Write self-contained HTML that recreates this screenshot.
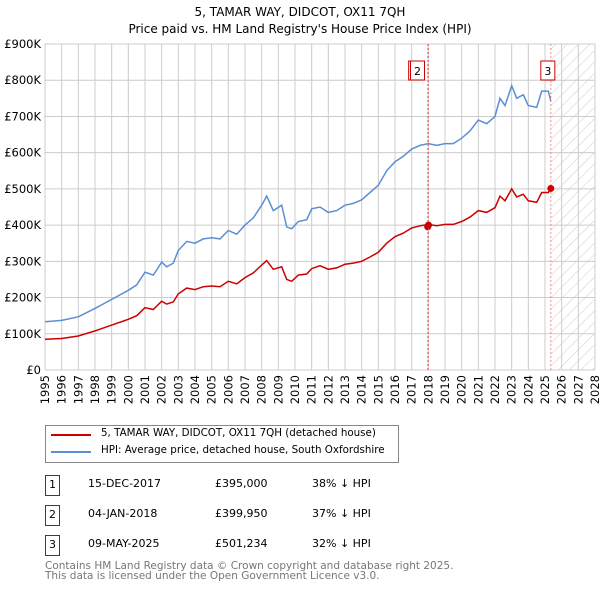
<!DOCTYPE html>
<html><head><meta charset="utf-8"><style>
body{margin:0;background:#fff;font-family:"DejaVu Sans","Liberation Sans",sans-serif;}
#wrap{position:relative;width:600px;height:590px;}
.t{position:absolute;font-size:11px;color:#000;white-space:nowrap;}
svg text{font-family:"DejaVu Sans","Liberation Sans",sans-serif;}
</style></head><body><div id="wrap">
<svg id="c" width="600" height="590" style="position:absolute;left:0;top:0">
<defs><pattern id="hatch" width="8" height="8" patternUnits="userSpaceOnUse" patternTransform="rotate(45)"><line x1="0" y1="0" x2="0" y2="8" stroke="#ccc" stroke-width="1"/></pattern></defs>
<text x="300" y="16" text-anchor="middle" font-size="12">5, TAMAR WAY, DIDCOT, OX11 7QH</text>
<text x="300" y="33" text-anchor="middle" font-size="12">Price paid vs. HM Land Registry's House Price Index (HPI)</text>
<g id="grid"></g><g id="marks"></g>
</svg>
<div style="position:absolute;left:45px;top:425px;width:352px;height:36px;border:1px solid #888;">
<div style="position:absolute;left:5px;top:8px;width:40px;border-top:2px solid #cc0000"></div>
<div class="t" style="left:55px;top:1px;font-size:10.3px">5, TAMAR WAY, DIDCOT, OX11 7QH (detached house)</div>
<div style="position:absolute;left:5px;top:25px;width:40px;border-top:2px solid #5b8fd4"></div>
<div class="t" style="left:55px;top:18px;font-size:10.3px">HPI: Average price, detached house, South Oxfordshire</div>
</div>
<div id="rows"></div>
<div class="t" style="left:45px;top:561px;color:#777;font-size:10.5px;line-height:10px">Contains HM Land Registry data © Crown copyright and database right 2025.<br>This data is licensed under the Open Government Licence v3.0.</div>
</div>
<script>
const hpiYears=[1995,1996,1997,1998,1999,2000,2000.5,2001,2001.5,2002,2002.3,2002.7,2003,2003.5,2004,2004.5,2005,2005.5,2006,2006.5,2007,2007.5,2008,2008.3,2008.7,2009.2,2009.5,2009.8,2010.2,2010.7,2011,2011.5,2012,2012.5,2013,2013.5,2014,2014.5,2015,2015.5,2016,2016.5,2017,2017.5,2018,2018.5,2019,2019.5,2020,2020.5,2021,2021.5,2022,2022.3,2022.6,2023,2023.3,2023.7,2024,2024.5,2024.8,2025.2,2025.35];
const hpiValues=[133,137,147,170,195,220,235,270,262,298,285,295,330,355,350,362,365,362,385,375,400,420,455,480,440,455,395,390,410,415,445,450,435,440,455,460,470,490,510,550,575,590,610,620,625,620,625,625,640,660,690,680,700,750,730,785,750,760,730,725,770,770,742];
const redValues=[85,87,94,108,124,140,150,172,167,190,182,188,210,226,222,230,232,230,245,238,255,268,290,302,278,285,250,245,262,265,280,288,278,282,292,295,300,312,325,350,368,378,392,398,402,398,402,402,410,422,440,435,448,480,467,500,478,485,467,463,490,490,501];
const sales=[{n:"1",d:"15-DEC-2017",x:2017.96,v:395000,p:"£395,000",h:"38% ↓ HPI"},{n:"2",d:"04-JAN-2018",x:2018.01,v:399950,p:"£399,950",h:"37% ↓ HPI"},{n:"3",d:"09-MAY-2025",x:2025.35,v:501234,p:"£501,234",h:"32% ↓ HPI"}];
const yTicks=[0,100,200,300,400,500,600,700,800,900];
const yLabels=["£0","£100K","£200K","£300K","£400K","£500K","£600K","£700K","£800K","£900K"];
const X=y=>45+(y-1995)*550/33, Y=v=>370-v*326/900;
const NS="http://www.w3.org/2000/svg";
function mk(p,tag,a){const e=document.createElementNS(NS,tag);for(const k in a)e.setAttribute(k,a[k]);p.appendChild(e);return e;}
const g=document.getElementById('grid'),m=document.getElementById('marks');
const hx=X(2025.35);
const hr=mk(g,'rect',{x:hx,y:44,width:595-hx,height:326,fill:'url(#hatch)'});


for(let yr=1995;yr<=2028;yr++){const l=mk(g,'line',{x1:X(yr),x2:X(yr),y1:44,y2:370,stroke:'#ccc'});


const t=mk(g,'text',{x:0,y:0,'font-size':11.5,'text-anchor':'end',transform:`translate(${X(yr)+4},375) rotate(-90)`});t.textContent=yr;

}
yTicks.forEach((v,i)=>{const l=mk(g,'line',{x1:45,x2:595,y1:Y(v),y2:Y(v),stroke:'#ccc'});


const t=mk(g,'text',{x:41,y:Y(v)+4,'font-size':11.5,'text-anchor':'end'});t.textContent=yLabels[i];

});
const pts=a=>a.map((v,i)=>X(hpiYears[i]).toFixed(1)+','+Y(v).toFixed(1)).join(' ');
const hl=mk(m,'polyline',{points:pts(hpiValues),fill:'none',stroke:'#5b8fd4','stroke-width':1.5});


const rl=mk(m,'polyline',{points:pts(redValues),fill:'none',stroke:'#cc0000','stroke-width':1.5});


sales.forEach(s=>{const l=mk(m,'line',{x1:X(s.x),x2:X(s.x),y1:44,y2:370,stroke:'#f07070','stroke-width':0.8,'stroke-dasharray':'2,2'});


const c=mk(m,'circle',{cx:X(s.x),cy:Y(s.v/1000),r:3.5,fill:'#cc0000'});

});
[[1,2017.96,-19],[2,2018.01,-18],[3,2025.35,-10]].forEach(([n,x,off])=>{const bx=X(x)+off;
const r=mk(m,'rect',{x:bx,y:61,width:14,height:19,fill:'#fff',stroke:'#cc0000'});


const t=mk(m,'text',{x:bx+7,y:75,'font-size':11,'text-anchor':'middle'});t.textContent=n===1?'':n;

});
const rows=document.getElementById('rows');
sales.forEach((s,i)=>{const top=475+i*30;const d=document.createElement('div');


d.innerHTML=`<div style="position:absolute;left:45px;top:${top}px;width:13px;height:19px;border:1px solid #cc0000;font-size:11px;text-align:center;line-height:18px">${s.n}</div><div class="t" style="left:88px;top:${top+2}px">${s.d}</div><div class="t" style="left:215px;top:${top+2}px">${s.p}</div><div class="t" style="left:312px;top:${top+2}px">${s.h}</div>`;rows.appendChild(d);});
</script></body></html>
